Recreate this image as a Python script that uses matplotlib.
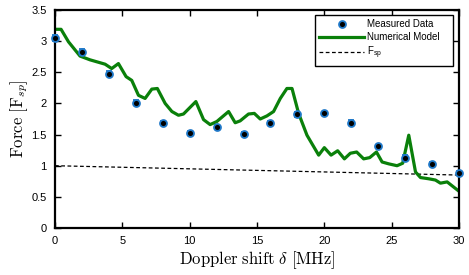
import matplotlib

matplotlib.use("Agg")

import matplotlib.pyplot as plt
from matplotlib.lines import Line2D

plt.rcParams["font.family"] = ["Liberation Sans", "DejaVu Sans"]
plt.rcParams["mathtext.fontset"] = "cm"

# measured data
meas_x = [0, 2, 4, 6, 8, 10, 12, 14, 16, 18, 20, 22, 24, 26, 28, 30]
meas_y = [3.05, 2.83, 2.48, 2.01, 1.69, 1.53, 1.62, 1.51, 1.69, 1.83, 1.84, 1.69, 1.31, 1.13, 1.03, 0.89]
meas_err = [0.05, 0.05, 0.04, 0.04, 0.03, 0.03, 0.03, 0.03, 0.03, 0.04, 0.03, 0.04, 0.03, 0.04, 0.03, 0.03]

# numerical model
model_x = [0.0, 0.45, 1.0, 1.86, 2.6, 3.72, 4.21, 4.71, 5.28, 5.7, 6.2, 6.69, 7.19, 7.6,
           8.18, 8.68, 9.17, 9.54, 10.46, 11.03, 11.52, 12.02, 12.89, 13.38, 13.75, 14.37,
           14.8, 15.24, 15.74, 16.23, 16.73, 17.22, 17.6, 18.09, 18.71, 19.58, 20.0, 20.5,
           20.99, 21.49, 21.93, 22.4, 22.92, 23.37, 23.87, 24.29, 24.78, 25.4, 25.82, 26.27,
           26.77, 27.14, 27.76, 28.25, 28.62, 29.12, 30.0]
model_y = [3.19, 3.19, 2.99, 2.76, 2.70, 2.63, 2.56, 2.64, 2.43, 2.37, 2.13, 2.08, 2.23, 2.24,
           2.00, 1.87, 1.81, 1.83, 2.03, 1.74, 1.66, 1.71, 1.87, 1.69, 1.72, 1.83,
           1.84, 1.75, 1.80, 1.87, 2.08, 2.24, 2.24, 1.84, 1.49, 1.17, 1.29, 1.17,
           1.24, 1.11, 1.20, 1.22, 1.11, 1.13, 1.22, 1.06, 1.03, 1.00, 1.04, 1.49,
           0.90, 0.81, 0.79, 0.77, 0.72, 0.74, 0.59]

# F_sp reference line
fsp_x = [0, 30]
fsp_y = [1.0, 0.85]

BLUE = "#1f78c8"
GREEN = "#0a800a"

fig = plt.figure(figsize=(4.69, 2.75), dpi=100)
ax = fig.add_axes([55 / 469, 1 - 228 / 275, 404 / 469, 218 / 275])

ax.plot(model_x, model_y, color=GREEN, linewidth=2.3, zorder=2)
ax.plot(fsp_x, fsp_y, color="black", linestyle="--", linewidth=0.9,
        dashes=(3, 2), zorder=1)
ax.errorbar(meas_x, meas_y, yerr=meas_err, fmt="o", color=BLUE, ecolor=BLUE,
            markerfacecolor="black", markeredgecolor=BLUE, markeredgewidth=1.3,
            markersize=5, capsize=2.5, elinewidth=1.2, capthick=1.2,
            zorder=3, clip_on=False)

ax.set_xlim(0, 30)
ax.set_ylim(0, 3.5)
ax.set_xticks(range(0, 31, 5))
ax.set_yticks([0, 0.5, 1, 1.5, 2, 2.5, 3, 3.5])
ax.set_yticklabels(["0", "0.5", "1", "1.5", "2", "2.5", "3", "3.5"])
ax.tick_params(direction="in", top=True, right=True, labelsize=8, length=4, width=1,
               pad=6)
for spine in ax.spines.values():
    spine.set_linewidth(1.6)

ax.set_xlabel(r"$\mathrm{Doppler\ shift}\ \delta\ [\mathrm{MHz}]$", fontsize=12, labelpad=2)
ax.set_ylabel(r"$\mathrm{Force}\ [\mathrm{F}_{sp}]$", fontsize=12, labelpad=1)

handles = [
    Line2D([], [], linestyle="none", marker="o", markersize=5,
           markerfacecolor="black", markeredgecolor=BLUE, markeredgewidth=1.3),
    Line2D([], [], color=GREEN, linewidth=2.3),
    Line2D([], [], color="black", linestyle="--", linewidth=0.9, dashes=(3, 2)),
]
labels = ["Measured Data", "Numerical Model", r"F$_{\mathregular{sp}}$"]
leg = ax.legend(handles, labels, loc="upper left",
                bbox_to_anchor=((315 - 55) / 404, 0.5, 138 / 404, (228 - 15) / 218 - 0.5),
                mode="expand", borderaxespad=0, fontsize=7, frameon=True,
                fancybox=False, edgecolor="black", framealpha=1, handlelength=4.6,
                handletextpad=0.3, labelspacing=0.3, borderpad=0.45)
leg.get_frame().set_linewidth(1.0)

fig.savefig("out.png", dpi=100, facecolor="white")
